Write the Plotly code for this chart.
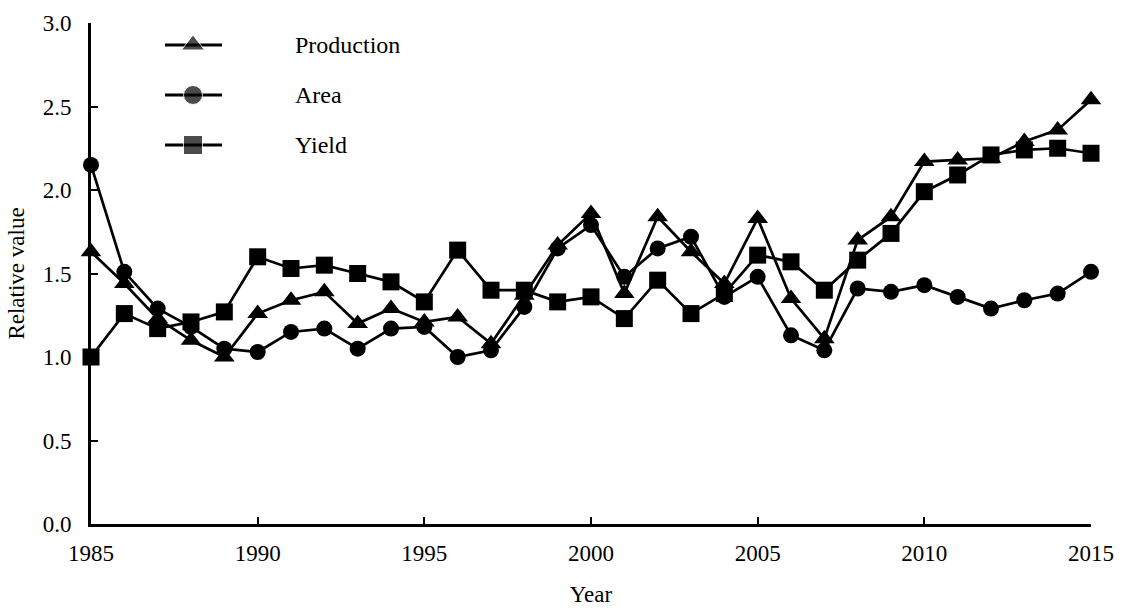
import plotly.graph_objects as go

# Relative change series, 1985-2015
years = list(range(1985, 2016))
production = [1.63, 1.44, 1.23, 1.10, 1.00, 1.26, 1.34, 1.39, 1.20, 1.29, 1.21,
              1.24, 1.08, 1.37, 1.67, 1.86, 1.38, 1.84, 1.63, 1.44, 1.83,
              1.35, 1.11, 1.70, 1.84, 2.17, 2.18, 2.19, 2.29, 2.36, 2.54]
area = [2.15, 1.51, 1.29, 1.18, 1.05, 1.03, 1.15, 1.17, 1.05, 1.17, 1.18,
        1.00, 1.04, 1.30, 1.65, 1.79, 1.48, 1.65, 1.72, 1.36, 1.48,
        1.13, 1.04, 1.41, 1.39, 1.43, 1.36, 1.29, 1.34, 1.38, 1.51]
yield_ = [1.00, 1.26, 1.17, 1.21, 1.27, 1.60, 1.53, 1.55, 1.50, 1.45, 1.33,
          1.64, 1.40, 1.40, 1.33, 1.36, 1.23, 1.46, 1.26, 1.38, 1.61,
          1.57, 1.40, 1.58, 1.74, 1.99, 2.09, 2.21, 2.24, 2.25, 2.22]

series_names = ["Production", "Area", "Yield"]
x_ticks = [1985, 1990, 1995, 2000, 2005, 2010, 2015]
y_ticks = [0.0, 0.5, 1.0, 1.5, 2.0, 2.5, 3.0]

FONT = "Liberation Serif, Times New Roman, serif"
symbols = ["triangle-up", "circle", "square"]
sizes = [18, 16, 17]
key_sizes = [20, 19, 19]

fig = go.Figure()
for name, vals, sym, sz in zip(series_names, [production, area, yield_], symbols, sizes):
    fig.add_trace(go.Scatter(
        x=years, y=vals, name=name, mode="lines+markers",
        line=dict(color="black", width=2.7),
        marker=dict(symbol=sym, size=sz, color="black"),
        cliponaxis=False, showlegend=False,
    ))

# Hand-placed key in the upper left, drawn on an overlay axis in pixel units
key_y = [45, 95, 145]
for name, sym, sz, ky in zip(series_names, symbols, key_sizes, key_y):
    fig.add_trace(go.Scatter(
        x=[165, 193, 222], y=[ky, ky, ky], mode="lines+markers",
        line=dict(color="black", width=3.2),
        marker=dict(symbol=sym, size=[0, sz, 0], color="black"),
        xaxis="x2", yaxis="y2", showlegend=False, hoverinfo="skip",
        cliponaxis=False,
    ))
    fig.add_annotation(x=293, y=ky, xref="x2", yref="y2", text=name,
                       showarrow=False, xanchor="left", yanchor="middle",
                       font=dict(family=FONT, size=24, color="black"))

fig.update_layout(
    width=1123, height=612,
    margin=dict(l=91, r=32, t=23, b=88),
    paper_bgcolor="white", plot_bgcolor="white",
    font=dict(family=FONT, color="black"),
    xaxis=dict(
        range=[1985, 2015], tickvals=x_ticks, ticktext=[str(t) for t in x_ticks],
        showgrid=False, zeroline=False, showline=True, linecolor="black", linewidth=3,
        ticks="inside", ticklen=7, tickwidth=2, tickcolor="black",
        tickfont=dict(family=FONT, size=23), ticklabelstandoff=6,
        title=dict(text="Year", font=dict(family=FONT, size=23), standoff=22),
        automargin=False,
    ),
    yaxis=dict(
        range=[0, 3], tickvals=y_ticks, ticktext=[f"{v:.1f}" for v in y_ticks],
        showgrid=False, zeroline=False, showline=True, linecolor="black", linewidth=3,
        ticks="inside", ticklen=7, tickwidth=2, tickcolor="black",
        tickfont=dict(family=FONT, size=23), ticklabelstandoff=12,
        title=dict(text="Relative value", font=dict(family=FONT, size=23), standoff=12),
        automargin=False,
    ),
    xaxis2=dict(overlaying="x", range=[91, 1091], visible=False, fixedrange=True),
    yaxis2=dict(overlaying="y", range=[524, 23], visible=False, fixedrange=True),
)

fig.write_html("out.html")
